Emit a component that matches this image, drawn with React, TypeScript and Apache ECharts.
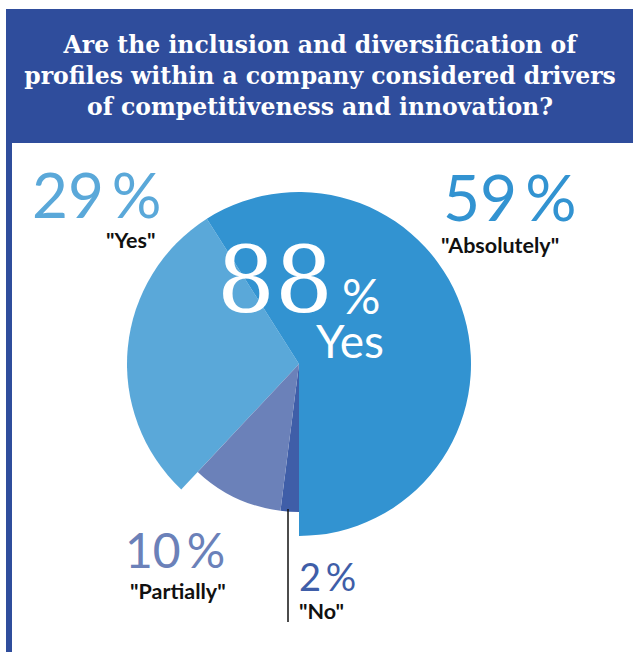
import React, { useEffect, useRef } from "react";
import * as echarts from "echarts";

// ---- data ----
const categories = ["No", "Partially", "Yes", "Absolutely"];
const values = [2, 10, 29, 59];
const answerLabels = ['"No"', '"Partially"', '"Yes"', '"Absolutely"'];
const sliceColors = ["#3f5ea8", "#6b81b9", "#5aa8d9", "#3293d1"];
const yesCategories = ["Yes", "Absolutely"];
const titleLines = [
  "Are the inclusion and diversification of",
  "profiles within a company considered drivers",
  "of competitiveness and innovation?",
];

const yesTotal = values.reduce(
  (s, v, i) => (yesCategories.includes(categories[i]) ? s + v : s),
  0
);

export default function App() {
  const ref = useRef<HTMLDivElement>(null);

  useEffect(() => {
    if (!ref.current) return;
    const chart = echarts.init(ref.current, undefined, { renderer: "svg" });
    const center = [299, 364];

    const makeData = (big: boolean) =>
      categories.map((c, i) => {
        const isYes = yesCategories.includes(c);
        return {
          name: c,
          value: values[i],
          itemStyle: {
            color: isYes === big ? sliceColors[i] : "rgba(0,0,0,0)",
          },
        };
      });

    const pieBase = {
      type: "pie",
      center,
      startAngle: 270,
      clockwise: true,
      silent: true,
      avoidLabelOverlap: false,
      label: { show: false },
      labelLine: { show: false },
      emphasis: { disabled: true },
      itemStyle: { borderWidth: 0 },
    };

    const pctText = (i: number) => `${values[i]}\u2009%`;
    const idx = (c: string) => categories.indexOf(c);

    const labelFont = "Lato, 'Open Sans', sans-serif";

    const answerText = (c: string, x: number, y: number) => ({
      type: "text",
      z: 10,
      x,
      y,
      style: {
        text: answerLabels[idx(c)],
        fill: "#111111",
        font: `bold 21.5px ${labelFont}`,
        lineHeight: 20,
        textAlign: "left",
        textVerticalAlign: "middle",
      },
    });

    const pctItem = (c: string, x: number, y: number, size: number) => ({
      type: "text",
      z: 10,
      x,
      y,
      style: {
        text: pctText(idx(c)),
        fill: sliceColors[idx(c)],
        font: `${size}px ${labelFont}`,
        lineHeight: Math.round(size * 0.85),
        textAlign: "left",
        textVerticalAlign: "middle",
      },
    });

    chart.setOption({
      animation: false,
      backgroundColor: "#ffffff",
      series: [
        { ...pieBase, radius: 172, data: makeData(true) },
        { ...pieBase, radius: 148, data: makeData(false) },
      ],
      graphic: [
        {
          type: "rect",
          z: 0,
          shape: { x: 6, y: 9, width: 627, height: 134 },
          style: { fill: "#2f4d9c" },
        },
        {
          type: "rect",
          z: 0,
          shape: { x: 6, y: 9, width: 6, height: 643 },
          style: { fill: "#2f4d9c" },
        },
        {
          type: "text",
          z: 10,
          x: 320,
          y: 76,
          style: {
            text: titleLines.join("\n"),
            fill: "#ffffff",
            font: "bold 23.5px 'DejaVu Serif', serif",
            lineHeight: 31,
            textAlign: "center",
            textVerticalAlign: "middle",
          },
        },
        {
          type: "line",
          z: 10,
          shape: { x1: 288, y1: 509, x2: 288, y2: 622 },
          style: { stroke: "#111111", lineWidth: 1.5 },
        },
        // percentages
        pctItem("Yes", 32, 194, 62),
        pctItem("Absolutely", 443, 196, 64),
        pctItem("Partially", 125, 549, 48),
        pctItem("No", 299, 576, 38),
        // answer labels
        answerText("Yes", 106, 240),
        answerText("Absolutely", 441, 245),
        answerText("Partially", 130, 591),
        answerText("No", 299, 611),
        // center total
        {
          type: "text",
          z: 100,
          x: 217,
          y: 280,
          style: {
            text: String(yesTotal),
            fill: "#ffffff",
            font: "91px 'DejaVu Serif', serif",
            textAlign: "left",
            textVerticalAlign: "middle",
          },
        },
        {
          type: "text",
          z: 100,
          x: 342,
          y: 295,
          style: {
            text: "%",
            fill: "#ffffff",
            font: `48px ${labelFont}`,
            lineHeight: 36,
            textAlign: "left",
            textVerticalAlign: "middle",
          },
        },
        {
          type: "text",
          z: 100,
          x: 316,
          y: 340,
          style: {
            text: "Yes",
            fill: "#ffffff",
            font: `46px ${labelFont}`,
            lineHeight: 36,
            textAlign: "left",
            textVerticalAlign: "middle",
          },
        },
      ],
    });
    return () => chart.dispose();
  }, []);

  return (
    <div
      ref={ref}
      style={{ position: "absolute", left: 0, top: 0, width: 633, height: 652 }}
    />
  );
}
